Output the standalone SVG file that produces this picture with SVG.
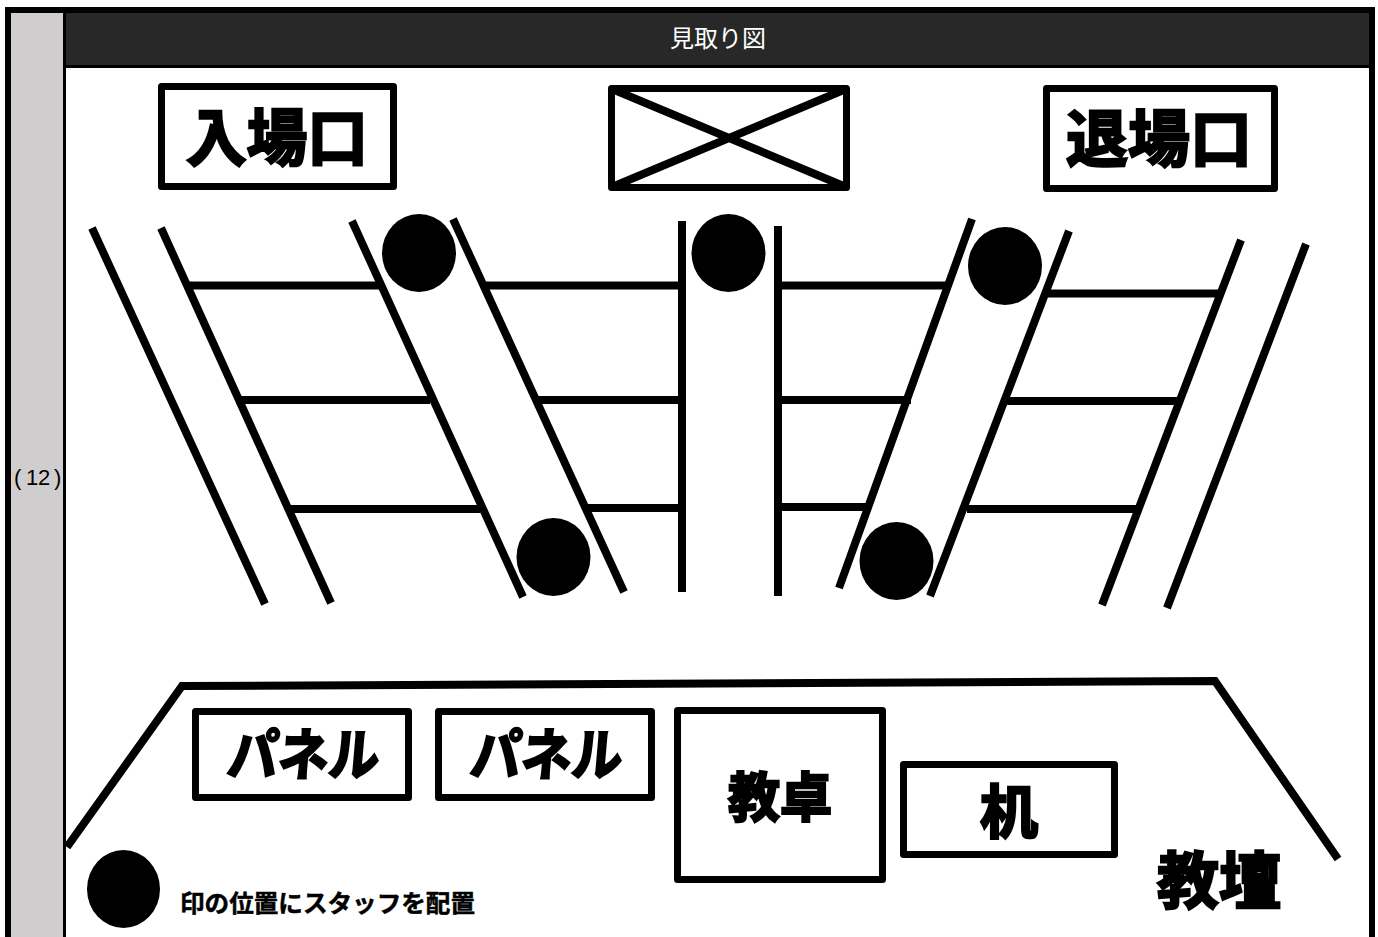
<svg xmlns="http://www.w3.org/2000/svg" width="1378" height="937" viewBox="0 0 1378 937">
<style>
.l{fill:none;stroke:#000;stroke-width:8}
.b{fill:#fff;stroke:#000;stroke-width:7;stroke-linejoin:round}
.big{font-family:"Noto Sans CJK JP","Noto Sans",sans-serif;font-weight:700;fill:#000;stroke:#000;stroke-width:2.500;text-anchor:middle}
.t{font-family:"Noto Sans CJK JP","Liberation Sans",sans-serif}
</style>
<rect width="1378" height="937" fill="#fff"/>
<g id="frame">
<rect x="5" y="7" width="1370" height="930" fill="#000"/>
<rect x="11" y="13" width="52" height="924" fill="#cfcdce"/>
<rect x="66" y="13" width="1303" height="52" fill="#282828"/>
<rect x="66" y="68" width="1303" height="869" fill="#fff"/>
<text class="t" x="718" y="47" font-size="24" fill="#fff" text-anchor="middle">見取り図</text>
<text x="14 26 38 54" y="485" font-size="22" fill="#000" font-family="Liberation Sans, sans-serif">(12)</text>
</g>
<g id="connectors">
<path class="l" d="M92 228L265 604M161 228L331 603M352 221L523 597M453 219L624 592M682 221V592M778 226V596M972 219L839 588M1069 231L930 596M1241 240L1102 605M1306 244L1167 608"/>
<path class="l" d="M188 285.500H381M486 285.500H682M781 285.500H949M1047 293.500H1219M236 400H430M536 400H682M781 400H911M1006 401H1179M287 509H480M586 508H682M781 507H867M967 509H1139"/>
<path class="l" d="M67 847L182 686L1215 681L1338 859"/>
</g>
<g id="entrance"><rect class="b" x="161.500" y="86.500" width="232" height="100"/><text class="big" x="277" y="161" font-size="62" textLength="182" lengthAdjust="spacingAndGlyphs">入場口</text></g>
<g id="blank"><rect class="b" x="611.500" y="88.500" width="235" height="99"/><path class="l" d="M612 89L846 187M846 89L612 187"/></g>
<g id="exit"><rect class="b" x="1046.500" y="88.500" width="228" height="100"/><text class="big" x="1159" y="162" font-size="62" textLength="186" lengthAdjust="spacingAndGlyphs">退場口</text></g>
<g id="staff1"><ellipse cx="419" cy="253" rx="37" ry="39"/></g>
<g id="staff2"><ellipse cx="728.500" cy="253" rx="37" ry="39"/></g>
<g id="staff3"><ellipse cx="1005" cy="266" rx="37" ry="39"/></g>
<g id="staff4"><ellipse cx="553.500" cy="557" rx="37" ry="39"/></g>
<g id="staff5"><ellipse cx="896.500" cy="561" rx="37" ry="39"/></g>
<g id="panel1"><rect class="b" x="195.500" y="711.500" width="213" height="86"/><text class="big" transform="translate(302 775) skewX(-5)" font-size="56" textLength="152" lengthAdjust="spacingAndGlyphs">パネル</text></g>
<g id="panel2"><rect class="b" x="438.500" y="711.500" width="213" height="86"/><text class="big" transform="translate(545 775) skewX(-5)" font-size="56" textLength="152" lengthAdjust="spacingAndGlyphs">パネル</text></g>
<g id="lectern"><rect class="b" x="677.500" y="710.500" width="205" height="169"/><text class="big" x="780" y="817" font-size="53" textLength="104" lengthAdjust="spacingAndGlyphs">教卓</text></g>
<g id="desk"><rect class="b" x="903.500" y="764.500" width="211" height="90"/><text class="big" x="1009" y="833" font-size="58">机</text></g>
<g id="platform"><text class="big" x="1219" y="904" font-size="62" textLength="124" lengthAdjust="spacingAndGlyphs">教壇</text></g>
<g id="legend"><ellipse cx="123.500" cy="889" rx="36.500" ry="39"/><text class="t" x="180" y="912" font-size="24" font-weight="700" fill="#000" stroke="#000" stroke-width=".5" textLength="295" lengthAdjust="spacingAndGlyphs">印の位置にスタッフを配置</text></g>
</svg>
